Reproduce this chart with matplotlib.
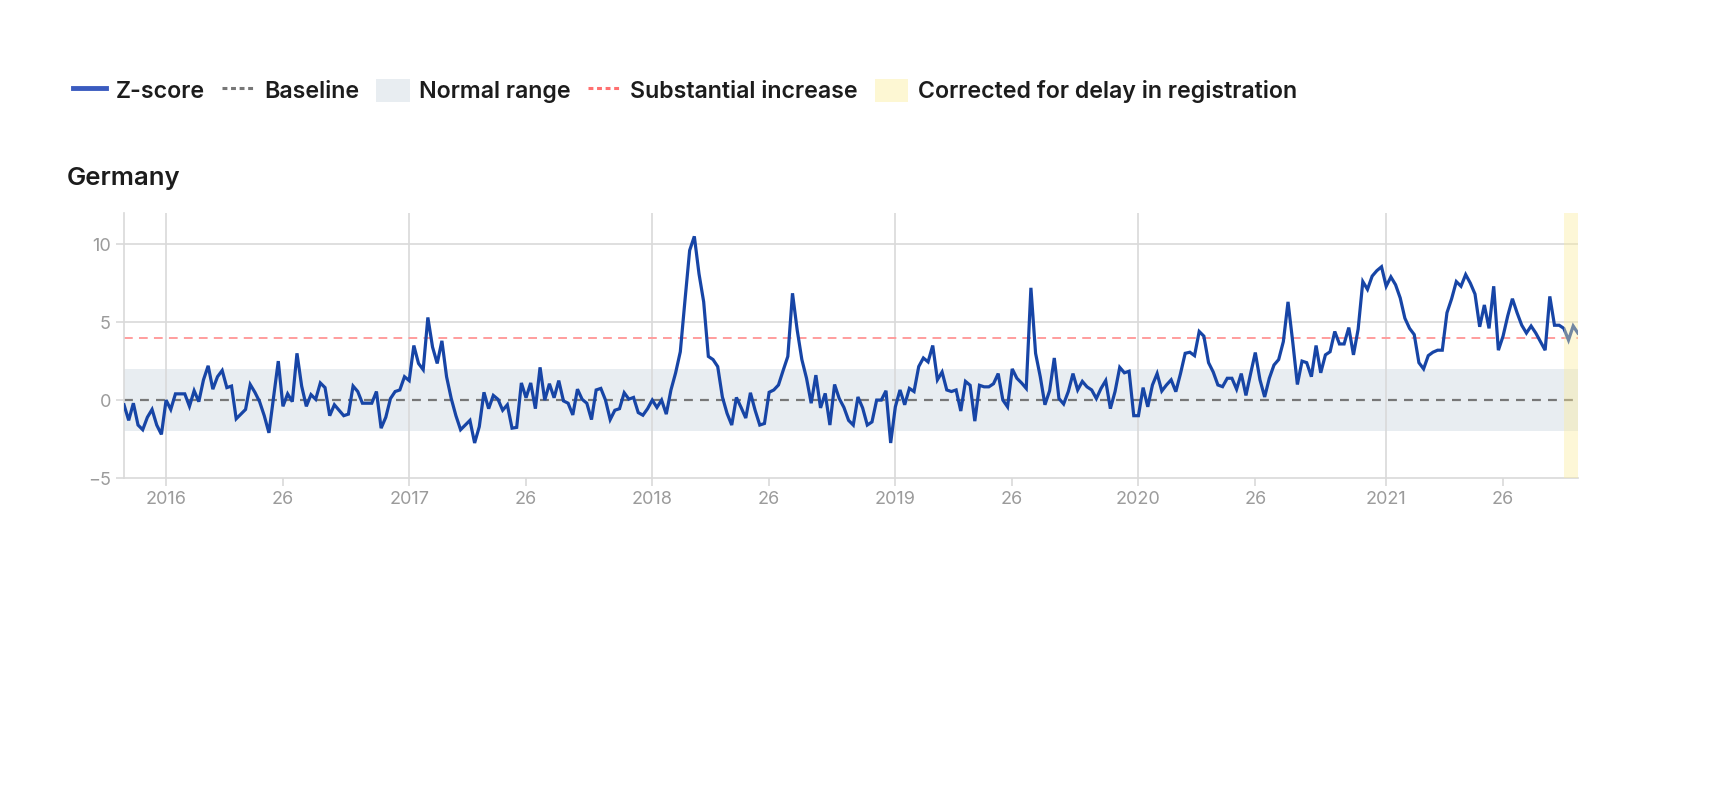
import matplotlib.pyplot as plt
from matplotlib.lines import Line2D
from matplotlib.patches import Patch
import numpy as np

plt.rcParams["font.family"] = ["Inter", "DejaVu Sans"]

PALETTE = {
    "line": "#1745a6",
    "baseline": "#777777",
    "normal": "#e8edf1",
    "increase": "#ff9d9d",
    "corrected": "#fcec9c",
    "grid": "#d9d9d9",
    "tick": "#9b9b9b",
    "ink": "#1c1c1c",
}

# weekly z-scores, week 0 = 2016-W01 (first value is 2015-W45)
first_week = -9
z_scores = [
    -0.3, -1.3, -0.2, -1.6, -1.9, -1.1, -0.6, -1.6, -2.2,
    0.0, -0.6, 0.4, 0.4, 0.4, -0.4, 0.6, -0.1, 1.3, 2.2, 0.7, 1.5, 1.9,
    0.8, 0.9, -1.2, -0.9, -0.6, 1.0, 0.5, -0.1, -1.0, -2.1, 0.2, 2.5, -0.4,
    0.4, -0.1, 3.0, 0.9, -0.4, 0.35, 0.05, 1.1, 0.8, -1.0, -0.3, -0.65, -1.0,
    -0.9, 0.9, 0.55, -0.2, -0.2, -0.2, 0.55, -1.8, -1.1, 0.1, 0.55, 0.65,
    1.5, 1.25,
    3.5, 2.35, 1.95, 5.3, 3.4, 2.35, 3.8, 1.5, 0.1, -1.0, -1.9, -1.6, -1.3,
    -2.75, -1.7, 0.5, -0.55, 0.3, 0.05, -0.65, -0.3, -1.8, -1.75, 1.1, 0.15,
    1.1, -0.55, 2.1, 0.0, 1.05, 0.15, 1.25, -0.05, -0.2, -0.95, 0.7, 0.05,
    -0.2, -1.25, 0.65, 0.75, 0.0, -1.25, -0.65, -0.55, 0.47, 0.06, 0.17,
    -0.8, -0.97, -0.55,
    0.0, -0.47, 0.0, -0.9, 0.65, 1.75, 3.1, 6.4, 9.6, 10.5, 8.1, 6.3, 2.8,
    2.6, 2.15, 0.2, -0.85, -1.6, 0.17, -0.47, -1.15, 0.47, -0.65, -1.6, -1.5,
    0.5, 0.65, 0.97, 1.9, 2.8, 6.85, 4.5, 2.6, 1.4, -0.2, 1.6, -0.5, 0.43,
    -1.6, 1.0, 0.1, -0.47, -1.3, -1.6, 0.2, -0.5, -1.6, -1.4, 0.0, 0.0, 0.6,
    -2.75,
    -0.43, 0.65, -0.3, 0.75, 0.55, 2.15, 2.7, 2.45, 3.5, 1.3, 1.8, 0.65,
    0.55, 0.65, -0.7, 1.2, 0.95, -1.35, 0.95, 0.85, 0.85, 1.05, 1.7, 0.0,
    -0.43, 2.0, 1.4, 1.1, 0.75, 7.2, 3.0, 1.5, -0.3, 0.6, 2.7, 0.1, -0.25,
    0.55, 1.7, 0.65, 1.2, 0.85, 0.65, 0.1, 0.75, 1.25, -0.55, 0.55, 2.1,
    1.75, 1.85, -1.0,
    -1.0, 0.8, -0.43, 0.97, 1.7, 0.58, 0.97, 1.3, 0.54, 1.7, 3.0, 3.07, 2.85,
    4.4, 4.1, 2.4, 1.8, 0.97, 0.86, 1.4, 1.4, 0.7, 1.7, 0.3, 1.7, 3.05, 1.3,
    0.2, 1.4, 2.25, 2.6, 3.75, 6.3, 3.75, 1.0, 2.5, 2.4, 1.5, 3.5, 1.75, 2.9,
    3.1, 4.4, 3.6, 3.6, 4.65, 2.9, 4.55, 7.6, 7.1, 7.95, 8.3, 8.55,
    7.3, 7.9, 7.4, 6.55, 5.25, 4.6, 4.2, 2.4, 2.0, 2.85, 3.07, 3.2, 3.2, 5.6,
    6.5, 7.6, 7.3, 8.05, 7.5, 6.8, 4.7, 6.1, 4.6, 7.3, 3.2, 4.1, 5.4, 6.5,
    5.6, 4.8, 4.3, 4.75, 4.3, 3.75, 3.2, 6.65, 4.8, 4.8, 4.6, 3.85, 4.75, 4.3,
]

year_labels = ["2016", "2017", "2018", "2019", "2020", "2021"]
year_starts = [0, 52, 104, 156, 208, 261]
mid_label = "26"

baseline = 0.0
normal_low, normal_high = -2.0, 2.0
substantial_increase = 4.0
corrected_from_week = 299

weeks = np.arange(first_week, first_week + len(z_scores))

fig = plt.figure(figsize=(17.32, 7.85), dpi=100)
fig.patch.set_facecolor("white")
ax = fig.add_axes([0.0716, 0.391, 0.8394, 0.3377])

ax.axhspan(normal_low, normal_high, color=PALETTE["normal"], lw=0, zorder=0)
ax.axhline(baseline, color=PALETTE["baseline"], lw=1.6, linestyle=(0, (4, 3.2)), zorder=2)
ax.axhline(substantial_increase, color=PALETTE["increase"], lw=1.4, linestyle=(0, (4.5, 3.2)), zorder=2)
ax.plot(weeks, z_scores, color=PALETTE["line"], lw=2.3, zorder=3, solid_joinstyle="miter")
ax.axvspan(corrected_from_week, weeks[-1], color=PALETTE["corrected"], alpha=0.4, lw=0, zorder=5)

ax.set_xlim(weeks[0], weeks[-1])
ax.set_ylim(-5, 12)

mid_weeks = [s + 25 for s in year_starts]
ticks = sorted(year_starts + mid_weeks)
labels = [year_labels[year_starts.index(t)] if t in year_starts else mid_label for t in ticks]
ax.set_xticks(ticks)
ax.set_xticklabels(labels)
ax.set_yticks([-5, 0, 5, 10])

for y in [5, 10]:
    ax.axhline(y, color=PALETTE["grid"], lw=1.2, zorder=1)
for x in year_starts:
    ax.axvline(x, color=PALETTE["grid"], lw=1.2, zorder=1)

for side in ["top", "right"]:
    ax.spines[side].set_visible(False)
for side in ["left", "bottom"]:
    ax.spines[side].set_color(PALETTE["grid"])
    ax.spines[side].set_linewidth(1.2)
ax.tick_params(colors=PALETTE["grid"], labelcolor=PALETTE["tick"], labelsize=13, length=6, width=1.2)

fig.text(0.0387, 1 - 178 / 785, "Germany", fontsize=18.5, fontweight="semibold", color=PALETTE["ink"], va="center")

handles = [
    Line2D([], [], color="#3a5bbf", lw=3.5),
    Line2D([], [], color=PALETTE["baseline"], lw=2.2, linestyle=(0, (1.6, 1.2))),
    Patch(facecolor=PALETTE["normal"], edgecolor="none"),
    Line2D([], [], color="#ff7070", lw=2.2, linestyle=(0, (1.6, 1.2))),
    Patch(facecolor="#fdf7d3", edgecolor="none"),
]
names = ["Z-score", "Baseline", "Normal range", "Substantial increase", "Corrected for delay in registration"]
fig.legend(
    handles, names, loc="center left", bbox_to_anchor=(0.03, 1 - 91 / 785), ncol=5, frameon=False,
    prop={"size": 16.7, "weight": "semibold"}, handlelength=1.45, handleheight=1.2, handletextpad=0.4,
    columnspacing=0.72, labelcolor=PALETTE["ink"],
)

fig.savefig("out.png", dpi=100, facecolor="white")
